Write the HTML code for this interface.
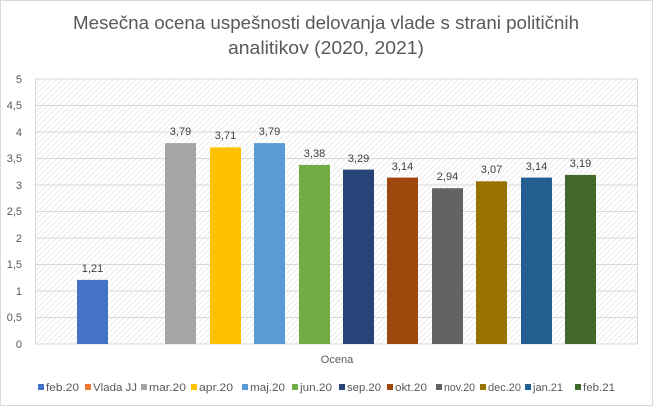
<!DOCTYPE html>
<html><head><meta charset="utf-8"><style>
body{margin:0;background:#fff}
svg{display:block;font-family:"Liberation Sans",sans-serif}
</style></head><body>
<svg width="653" height="406" viewBox="0 0 653 406">
<defs><pattern id="h" width="4" height="4" patternUnits="userSpaceOnUse" patternTransform="rotate(45)"><line x1="0" y1="0" x2="0" y2="4" stroke="#d9d9d9" stroke-width="1"/></pattern></defs>
<rect x="0.5" y="0.5" width="652" height="405" fill="#fff" stroke="#d9d9d9"/>
<text x="326" y="29" text-anchor="middle" font-size="18.5" fill="#595959" textLength="506" lengthAdjust="spacingAndGlyphs">Mesečna ocena uspešnosti delovanja vlade s strani političnih</text>
<text x="326" y="54" text-anchor="middle" font-size="18.5" fill="#595959" textLength="196" lengthAdjust="spacingAndGlyphs">analitikov (2020, 2021)</text>
<rect x="35.5" y="79" width="602" height="265" fill="url(#h)" stroke="#d9d9d9"/>
<g stroke="#d9d9d9" stroke-width="1">
<line x1="35" x2="638" y1="105.5" y2="105.5"/><line x1="35" x2="638" y1="132" y2="132"/><line x1="35" x2="638" y1="158.5" y2="158.5"/><line x1="35" x2="638" y1="185" y2="185"/><line x1="35" x2="638" y1="211.5" y2="211.5"/><line x1="35" x2="638" y1="238" y2="238"/><line x1="35" x2="638" y1="264.5" y2="264.5"/><line x1="35" x2="638" y1="291" y2="291"/><line x1="35" x2="638" y1="317.5" y2="317.5"/>
</g>
<g font-size="11" fill="#595959" text-anchor="end">
<text x="22" y="83">5</text><text x="22" y="109">4,5</text><text x="22" y="136">4</text><text x="22" y="162">3,5</text><text x="22" y="189">3</text><text x="22" y="215">2,5</text><text x="22" y="242">2</text><text x="22" y="268">1,5</text><text x="22" y="295">1</text><text x="22" y="321">0,5</text><text x="22" y="348">0</text>
</g>
<g>
<rect x="77" y="279.9" width="31" height="64.1" fill="#4472C4"/>
<rect x="165" y="143.1" width="31" height="200.9" fill="#A5A5A5"/>
<rect x="210" y="147.4" width="31" height="196.6" fill="#FFC000"/>
<rect x="254" y="143.1" width="31" height="200.9" fill="#5B9BD5"/>
<rect x="299" y="164.9" width="31" height="179.1" fill="#70AD47"/>
<rect x="343" y="169.6" width="31" height="174.4" fill="#264478"/>
<rect x="387" y="177.6" width="31" height="166.4" fill="#9E480E"/>
<rect x="432" y="188.2" width="31" height="155.8" fill="#636363"/>
<rect x="476" y="181.3" width="31" height="162.7" fill="#997300"/>
<rect x="521" y="177.6" width="31" height="166.4" fill="#255E91"/>
<rect x="565" y="174.9" width="31" height="169.1" fill="#43682B"/>
</g>
<g font-size="11" fill="#404040" text-anchor="middle">
<text x="92.5" y="272">1,21</text><text x="180.5" y="135">3,79</text><text x="225.5" y="139">3,71</text><text x="269.5" y="135">3,79</text><text x="314.5" y="157">3,38</text><text x="358.5" y="162">3,29</text><text x="402.5" y="170">3,14</text><text x="447.5" y="180">2,94</text><text x="491.5" y="173">3,07</text><text x="536.5" y="170">3,14</text><text x="580.5" y="167">3,19</text>
</g>
<text x="337" y="363" font-size="11" fill="#595959" text-anchor="middle">Ocena</text>
<g font-size="11" fill="#595959" lengthAdjust="spacingAndGlyphs">
<rect x="38" y="384" width="6" height="6" fill="#4472C4"/><text x="46" y="391" textLength="33" lengthAdjust="spacingAndGlyphs">feb.20</text>
<rect x="85" y="384" width="6" height="6" fill="#ED7D31"/><text x="93" y="391" textLength="44" lengthAdjust="spacingAndGlyphs">Vlada JJ</text>
<rect x="141" y="384" width="6" height="6" fill="#A5A5A5"/><text x="149" y="391" textLength="37" lengthAdjust="spacingAndGlyphs">mar.20</text>
<rect x="191" y="384" width="6" height="6" fill="#FFC000"/><text x="199" y="391" textLength="34" lengthAdjust="spacingAndGlyphs">apr.20</text>
<rect x="242" y="384" width="6" height="6" fill="#5B9BD5"/><text x="250" y="391" textLength="35" lengthAdjust="spacingAndGlyphs">maj.20</text>
<rect x="292" y="384" width="6" height="6" fill="#70AD47"/><text x="300" y="391" textLength="32" lengthAdjust="spacingAndGlyphs">jun.20</text>
<rect x="339" y="384" width="6" height="6" fill="#264478"/><text x="347" y="391" textLength="34" lengthAdjust="spacingAndGlyphs">sep.20</text>
<rect x="387" y="384" width="6" height="6" fill="#9E480E"/><text x="395" y="391" textLength="32" lengthAdjust="spacingAndGlyphs">okt.20</text>
<rect x="436" y="384" width="6" height="6" fill="#636363"/><text x="444" y="391" textLength="31" lengthAdjust="spacingAndGlyphs">nov.20</text>
<rect x="480" y="384" width="6" height="6" fill="#997300"/><text x="488" y="391" textLength="33" lengthAdjust="spacingAndGlyphs">dec.20</text>
<rect x="525" y="384" width="6" height="6" fill="#255E91"/><text x="533" y="391" textLength="30" lengthAdjust="spacingAndGlyphs">jan.21</text>
<rect x="575" y="384" width="6" height="6" fill="#43682B"/><text x="583" y="391" textLength="32" lengthAdjust="spacingAndGlyphs">feb.21</text>
</g>
</svg>
</body></html>
